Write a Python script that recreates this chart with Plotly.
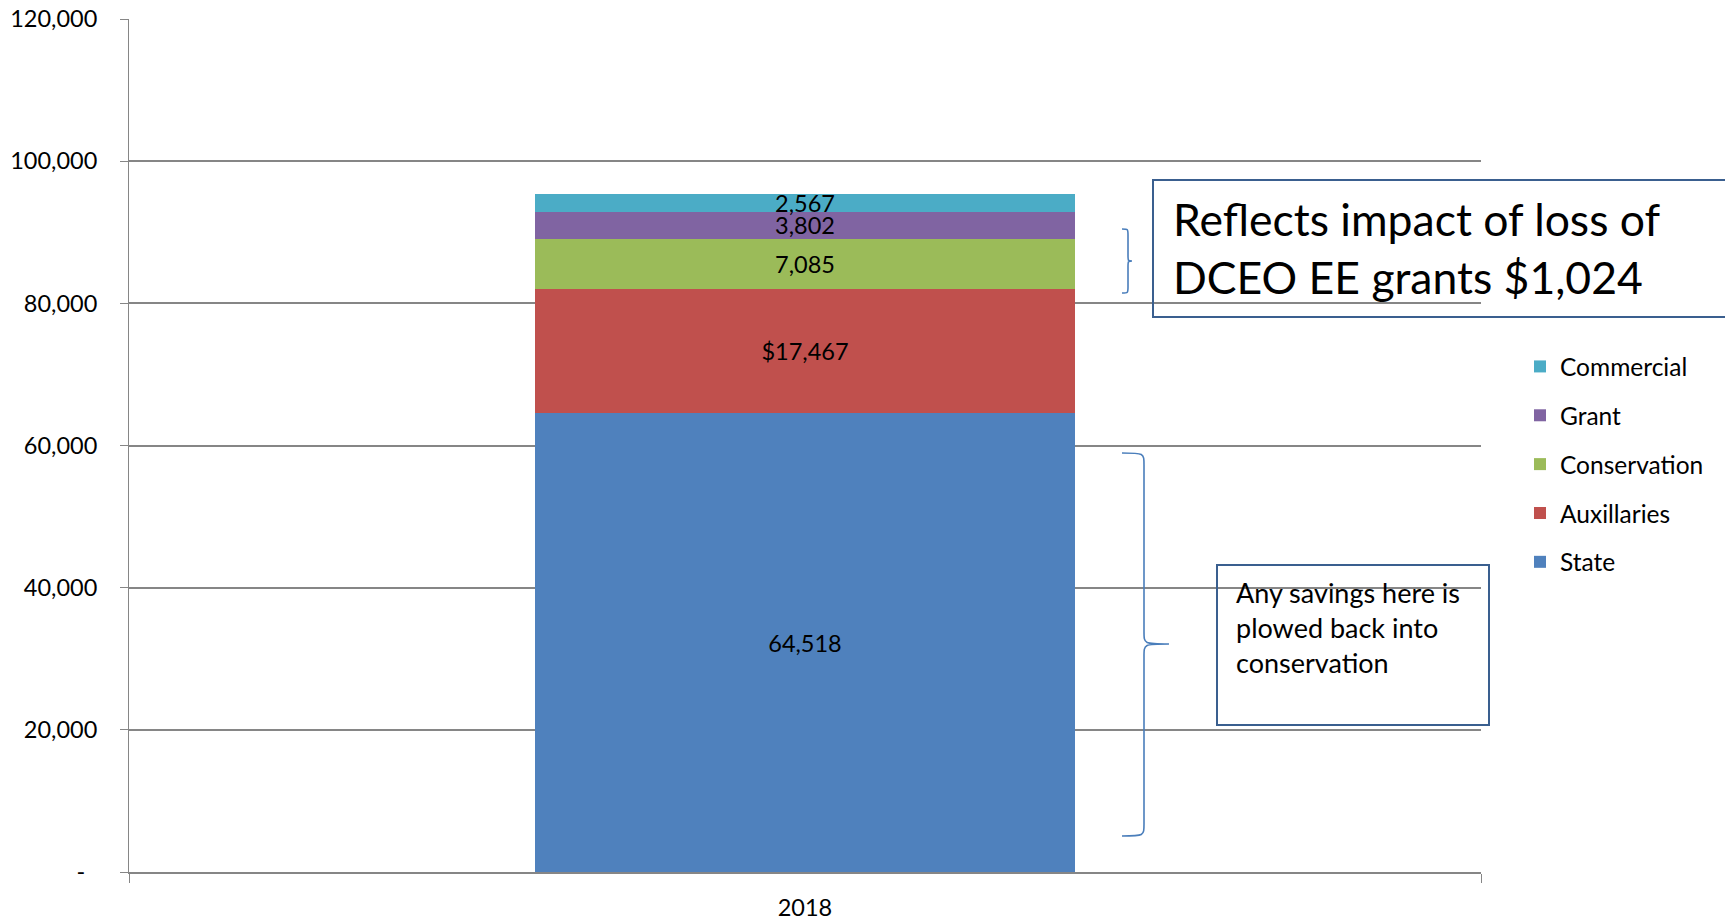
import plotly.graph_objects as go

# ---- data ----
categories = ["2018"]
series_names = ["State", "Auxillaries", "Conservation", "Grant", "Commercial"]
series_values = [64518, 17467, 7085, 3802, 2567]
series_labels = ["64,518", "$17,467", "7,085", "3,802", "2,567"]
series_colors = ["#4F81BD", "#C0504D", "#9BBB59", "#8064A2", "#4BACC6"]
y_tickvals = [0, 20000, 40000, 60000, 80000, 100000, 120000]
y_ticktext = ["-\u00a0\u00a0", "20,000", "40,000", "60,000", "80,000", "100,000", "120,000"]

note_top = "Reflects impact of loss of<br>DCEO EE grants $1,024"
note_bottom = "Any savings here is<br>plowed back into<br>conservation"

FONT = "Lato"
OFF = 8  # page body margin
W_PX, H_PX = 1733 - OFF, 920 - OFF
# plot area in screen pixels
L, R, T, B = 129, 1481, 19, 872
PW, PH = R - L, B - T


def px2x(px):
    return (px - L) / PW


def py2y(py):
    return (B - py) / PH


fig = go.Figure()
n = len(series_names)
for i, (name, val, lab, col) in enumerate(zip(series_names, series_values, series_labels, series_colors)):
    fig.add_trace(go.Bar(
        name=name, x=categories, y=[val], text=[lab],
        textposition="inside", insidetextanchor="middle",
        textfont=dict(family=FONT, size=23.5, color="black"),
        marker=dict(color=col, line=dict(width=0)),
        legendgroup=name, legendrank=n - i, hoverinfo="skip",
    ))


def brace(x0, xv, xtip, ytop, ymid, ybot, r):
    def P(x, y):
        return f"{px2x(x):.5f},{py2y(y):.5f}"
    d = (f"M {P(x0, ytop)} C {P(xv, ytop)} {P(xv, ytop)} {P(xv, ytop + r)} "
         f"L {P(xv, ymid - r)} C {P(xv, ymid)} {P(xv, ymid)} {P(xtip, ymid)} "
         f"C {P(xv, ymid)} {P(xv, ymid)} {P(xv, ymid + r)} "
         f"L {P(xv, ybot - r)} C {P(xv, ybot)} {P(xv, ybot)} {P(x0, ybot)}")
    return dict(type="path", xref="paper", yref="paper", path=d,
                line=dict(color="#4A7EBB", width=1.6))


shapes = [
    brace(1122, 1128, 1132, 229, 261, 293, 6),
    brace(1122, 1144, 1169, 453, 644, 836, 12),
    dict(type="rect", xref="paper", yref="paper",
         x0=px2x(1153), x1=px2x(1729), y0=py2y(317), y1=py2y(180),
         line=dict(color="#3A5F8F", width=2), fillcolor="rgba(0,0,0,0)"),
    dict(type="rect", xref="paper", yref="paper",
         x0=px2x(1217), x1=px2x(1489), y0=py2y(725), y1=py2y(565),
         line=dict(color="#3A5F8F", width=2), fillcolor="rgba(0,0,0,0)"),
]

annotations = [
    dict(xref="paper", yref="paper", x=px2x(1171), y=py2y(248), xanchor="left", yanchor="middle",
         text=note_top, align="left", showarrow=False,
         font=dict(family=FONT, size=44.5, color="black")),
    dict(xref="paper", yref="paper", x=px2x(1234), y=py2y(574), xanchor="left", yanchor="top",
         text=note_bottom, align="left", showarrow=False,
         font=dict(family=FONT, size=27, color="black")),
]

fig.update_layout(
    width=W_PX, height=H_PX, autosize=False,
    margin=dict(l=L - OFF, r=W_PX - (R - OFF), t=T - OFF, b=H_PX - (B - OFF), pad=0, autoexpand=False),
    plot_bgcolor="white", paper_bgcolor="white",
    barmode="stack", bargap=0.6,
    font=dict(family=FONT, size=23.5, color="black"),
    uniformtext=dict(minsize=23.5, mode="show"),
    showlegend=True,
    legend=dict(x=px2x(1520), y=py2y(344), xanchor="left", yanchor="top",
                traceorder="grouped", tracegroupgap=14,
                font=dict(family=FONT, size=24.5, color="black"),
                bgcolor="rgba(0,0,0,0)"),
    shapes=shapes,
    annotations=annotations,
    hovermode=False,
)

fig.update_xaxes(
    type="category", showline=True, linecolor="#868686", linewidth=2,
    ticks="outside", tickson="boundaries", ticklen=9, tickcolor="#868686", tickwidth=1,
    showgrid=False, tickfont=dict(family=FONT, size=23.5, color="black"),
    ticklabelstandoff=14, automargin=False, ticklabeloverflow="allow",
)
fig.update_yaxes(
    range=[0, 120000], tickvals=y_tickvals, ticktext=y_ticktext,
    showgrid=True, gridcolor="#868686", gridwidth=2,
    showline=True, linecolor="#868686", linewidth=1,
    ticks="outside", ticklen=8, tickcolor="#868686", tickwidth=1,
    zeroline=False, tickfont=dict(family=FONT, size=23.5, color="black"),
    ticklabelstandoff=18, automargin=False, ticklabeloverflow="allow",
)

fig.write_html("out.html")
